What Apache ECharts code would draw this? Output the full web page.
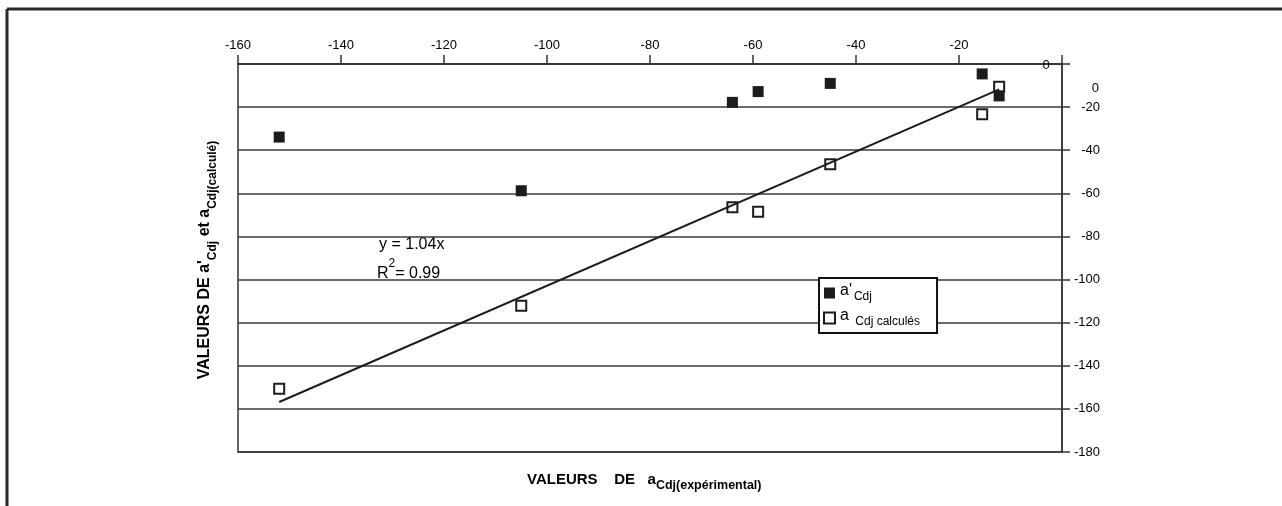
<!DOCTYPE html>
<html>
<head>
<meta charset="utf-8">
<script src="https://cdn.jsdelivr.net/npm/echarts@6/dist/echarts.min.js"></script>
<style>
  html, body { margin: 0; padding: 0; background: #fff; }
  #chart { width: 1282px; height: 506px; }
</style>
</head>
<body>
<div id="chart"></div>
<script>
const FONT = "Liberation Sans, Arial, sans-serif";

// a Cdj (expérimental)
const xExp = [-152, -105, -64, -59, -45, -15.5, -12.2];
// a'Cdj
const aPrime = [-33.9, -58.8, -17.8, -12.8, -9.0, -4.6, -14.8];
// a Cdj calculés
const aCalc = [-150.7, -112.1, -66.5, -68.5, -46.5, -23.3, -10.5];
// droite de tendance y = 1.04x
const trendX = [-152, -12.2];
const trendY = [-156.8, -11.8];

const xTicks = [-160, -140, -120, -100, -80, -60, -40, -20, 0];
const yTicks = [0, -20, -40, -60, -80, -100, -120, -140, -160, -180];

const chart = echarts.init(document.getElementById("chart"));

const ink = "#1c1c1c";

chart.setOption({
  backgroundColor: "#fff",
  animation: false,
  textStyle: { fontFamily: FONT },
  grid: {
    left: 238, top: 64, width: 824, height: 388,
    show: true, borderColor: "#333", borderWidth: 1.5
  },
  xAxis: {
    type: "value", position: "top",
    min: xTicks[0], max: xTicks[xTicks.length - 1], interval: 20,
    axisLine: { show: true, onZero: false, lineStyle: { color: "#333", width: 1.5 } },
    axisTick: { show: true, inside: false, length: 9, lineStyle: { color: "#333", width: 1.5 } },
    axisLabel: {
      margin: 12, color: "#000", fontSize: 13, fontFamily: FONT,
      formatter: v => (v === 0 ? "" : String(v))
    },
    splitLine: { show: false }
  },
  yAxis: {
    type: "value", position: "right",
    min: yTicks[yTicks.length - 1], max: yTicks[0], interval: 20,
    axisLine: { show: true, onZero: false, lineStyle: { color: "#333", width: 1.5 } },
    axisTick: { show: true, inside: false, length: 8, lineStyle: { color: "#333", width: 1.5 } },
    axisLabel: {
      margin: 38, align: "right", color: "#000", fontSize: 13, fontFamily: FONT,
      padding: [5, 0, 0, 0],
      formatter: v => (v === 0 ? "" : String(v))
    },
    splitLine: { show: true, lineStyle: { color: "#3a3a3a", width: 1.5 } }
  },
  legend: {
    orient: "vertical", left: 819, top: 278,
    backgroundColor: "#fff", borderColor: "#111", borderWidth: 2,
    padding: [5, 17, 5, 4], itemGap: 5, itemWidth: 11, itemHeight: 11,
    data: [{ name: "a'Cdj", icon: "rect" }, { name: "aCdj calculés", icon: "rect" }],
    formatter: name => name === "a'Cdj"
      ? "{m|a'}{s|Cdj}"
      : "{m|a }{s|Cdj calculés}",
    textStyle: {
      color: "#000",
      rich: {
        m: { fontSize: 16, fontFamily: FONT, color: "#000", lineHeight: 20, verticalAlign: "top" },
        s: { fontSize: 12, fontFamily: FONT, color: "#000", lineHeight: 20, verticalAlign: "bottom", padding: [0, 0, 0, 2] }
      }
    }
  },
  series: [
    {
      name: "a'Cdj", type: "scatter", symbol: "rect", symbolSize: 11,
      itemStyle: { color: ink, opacity: 1 },
      data: xExp.map((x, i) => [x, aPrime[i]]),
      z: 4
    },
    {
      name: "aCdj calculés", type: "scatter", symbol: "rect", symbolSize: 10,
      itemStyle: { color: "#fff", borderColor: ink, borderWidth: 2, opacity: 1 },
      data: xExp.map((x, i) => [x, aCalc[i]]),
      z: 3
    },
    {
      name: "tendance", type: "line", symbol: "none",
      lineStyle: { color: ink, width: 2 },
      data: trendX.map((x, i) => [x, trendY[i]]),
      z: 5, silent: true
    }
  ],
  graphic: [
    // cadre extérieur
    { type: "line", shape: { x1: 7, y1: 9, x2: 1282, y2: 9 }, style: { stroke: "#2a2a2a", lineWidth: 3 } },
    { type: "line", shape: { x1: 7, y1: 9, x2: 7, y2: 506 }, style: { stroke: "#2a2a2a", lineWidth: 3 } },
    // étiquettes "0" décalées
    { type: "text", x: 1046, y: 65, style: { text: "0", font: "13px " + FONT, fill: "#000", align: "center", verticalAlign: "middle" }, z: 10 },
    { type: "text", x: 1099, y: 88, style: { text: "0", font: "13px " + FONT, fill: "#000", align: "right", verticalAlign: "middle" }, z: 10 },
    // équation
    {
      type: "text", x: 379, y: 237,
      style: { text: "y = 1.04x", font: "16px " + FONT, fill: "#000" }
    },
    {
      type: "text", x: 377, y: 258,
      style: {
        text: "{m|R}{p|2}{m|= 0.99}",
        rich: {
          m: { fontSize: 16, fontFamily: FONT, fill: "#000", lineHeight: 24, verticalAlign: "bottom" },
          p: { fontSize: 12, fontFamily: FONT, fill: "#000", lineHeight: 24, verticalAlign: "top" }
        }
      }
    },
    // titre axe vertical
    {
      type: "text", x: 208, y: 260, rotation: Math.PI / 2,
      style: {
        text: "{b|VALEURS DE a'}{s|Cdj}{b| et a}{s|Cdj(calculé)}",
        align: "center", verticalAlign: "middle",
        rich: {
          b: { fontSize: 16, fontWeight: "bold", fontFamily: FONT, fill: "#000", lineHeight: 22, verticalAlign: "top" },
          s: { fontSize: 12, fontWeight: "bold", fontFamily: FONT, fill: "#000", lineHeight: 22, verticalAlign: "bottom" }
        }
      }
    },
    // titre axe horizontal
    {
      type: "text", x: 527, y: 472,
      style: {
        text: "{b|VALEURS    DE   a}{s|Cdj(expérimental)}",
        rich: {
          b: { fontSize: 15, fontWeight: "bold", fontFamily: FONT, fill: "#000", lineHeight: 20, verticalAlign: "top" },
          s: { fontSize: 12.5, fontWeight: "bold", fontFamily: FONT, fill: "#000", lineHeight: 20, verticalAlign: "bottom" }
        }
      }
    }
  ]
});
</script>
</body>
</html>
